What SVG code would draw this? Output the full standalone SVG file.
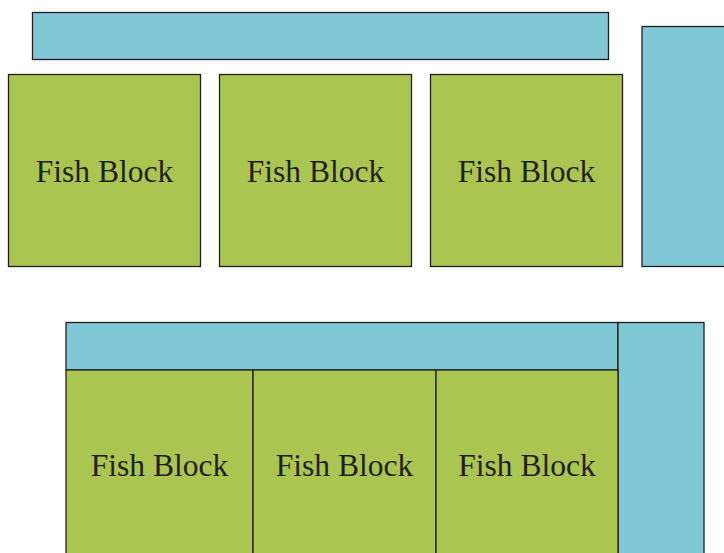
<svg xmlns="http://www.w3.org/2000/svg" width="724" height="553" viewBox="0 0 724 553">
<style>
.blue{fill:#80c8d6;stroke:#231f20;stroke-width:1.3}
.green{fill:#abc551;stroke:#231f20;stroke-width:1.3}
.lbl{font-family:"Liberation Serif","Times New Roman",serif;font-size:31.5px;fill:#231f20;text-anchor:middle}
</style>
<rect width="724" height="553" fill="#ffffff"/>
<g id="top-bar"><rect class="blue" x="32.5" y="12.5" width="576" height="47"/></g>
<g id="top-right"><rect class="blue" x="642" y="26.5" width="90" height="240"/></g>
<g id="fish1"><rect class="green" x="8.5" y="74.5" width="192" height="192"/><text class="lbl" x="104.5" y="182">Fish Block</text></g>
<g id="fish2"><rect class="green" x="219.5" y="74.5" width="192" height="192"/><text class="lbl" x="315.5" y="182">Fish Block</text></g>
<g id="fish3"><rect class="green" x="430.5" y="74.5" width="192" height="192"/><text class="lbl" x="526.5" y="182">Fish Block</text></g>
<g id="bottom-bar"><rect class="blue" x="66" y="322.5" width="552" height="47.5"/></g>
<g id="bottom-right"><rect class="blue" x="618" y="322.5" width="86" height="240"/></g>
<g id="fish4"><rect class="green" x="66" y="370" width="187" height="200"/><text class="lbl" x="159.5" y="476">Fish Block</text></g>
<g id="fish5"><rect class="green" x="253" y="370" width="183" height="200"/><text class="lbl" x="344.5" y="476">Fish Block</text></g>
<g id="fish6"><rect class="green" x="436" y="370" width="182" height="200"/><text class="lbl" x="527" y="476">Fish Block</text></g>
<g id="connectors"></g>
</svg>
